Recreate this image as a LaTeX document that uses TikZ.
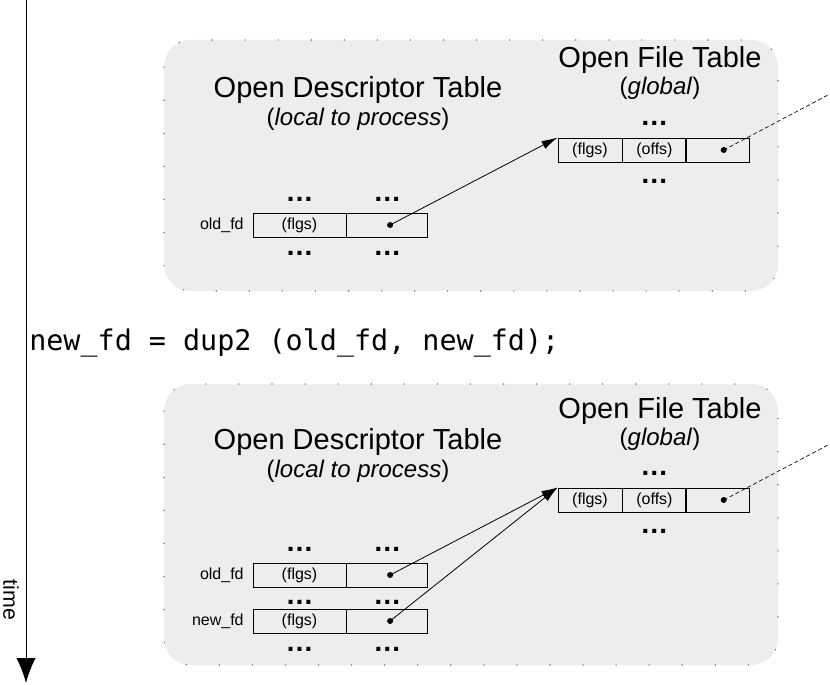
\documentclass[tikz,border=0pt]{standalone}
\usepackage{fontspec}
\setmainfont{Liberation Sans}
\newfontfamily\codefont{DejaVu Sans Mono}
\usetikzlibrary{positioning,arrows.meta}

\tikzset{
  panel/.style={fill=black!7,draw=black!60,line width=0.8pt,dash pattern=on 0.8pt off 24pt,rounded corners=20pt},
  cell/.style={draw,line width=0.7pt,minimum height=18pt,inner sep=0pt,font=\fontsize{12}{14}\selectfont},
  title/.style={font=\fontsize{21.75}{26}\selectfont,inner sep=0pt,anchor=base},
  subtitle/.style={font=\fontsize{18}{22}\selectfont,inner sep=0pt,anchor=base},
  dots/.style={font=\bfseries\fontsize{21}{26}\selectfont,inner sep=0pt},
  fdname/.style={font=\fontsize{12}{14}\selectfont,inner sep=0pt},
  ptrdot/.style={circle,fill,inner sep=0pt,minimum size=4.5pt},
  ptr/.style={-{Latex[length=12pt,width=6.5pt]},line width=0.6pt},
  extptr/.style={dash pattern=on 3pt off 2pt,line width=0.5pt},
  timeline/.style={-{Latex[length=18.75pt,width=14.5pt]},line width=0.75pt}
}

\begin{document}
\begin{tikzpicture}[x=0.75pt,y=-0.75pt]
  \useasboundingbox (0,0) rectangle (830,684);

  % time axis
  \coordinate (tstart) at (26,0);
  \coordinate (tend) at (26,683);
  \draw[timeline] (tstart) -- (tend);
  \node[rotate=-90,inner sep=0pt,font=\fontsize{16}{18}\selectfont] (timelbl) at (11,600) {time};

  % before the call
  \path[panel] (164,40) rectangle (778,291);
  \node[title] (odt1) at (358,98) {Open Descriptor Table};
  \node[subtitle] (odtsub1) at (358,126) {(\textit{local to process})};
  \node[title] (oft1) at (660,68) {Open File Table};
  \node[subtitle] (oftsub1) at (660,95) {(\textit{global})};

  \node[cell,minimum width=48pt] (fflg1) at (590,150) {(flgs)};
  \node[cell,minimum width=47.25pt,right=0pt of fflg1] (foff1) {(offs)};
  \node[cell,minimum width=47.25pt,right=0pt of foff1] (fptr1) {};
  \node[dots,above=8.5pt of foff1] (fup1) {…};
  \node[dots,below=12.5pt of foff1] (fdn1) {…};
  \node[ptrdot,xshift=4pt] (fdot1) at (fptr1.center) {};
  \coordinate (file1) at (828,95);

  \node[cell,minimum width=69.75pt] (oflg1) at (299.5,225) {(flgs)};
  \node[cell,minimum width=60.75pt,right=0pt of oflg1] (optr1) {};
  \node[fdname,left=6.5pt of oflg1] (old1) {old\_fd};
  \foreach \c in {oflg1,optr1} {
    \node[dots,above=8pt of \c] (\c-up) {…};
    \node[dots,below=10.5pt of \c] (\c-dn) {…};
  }
  \node[ptrdot,xshift=2pt] (odot1) at (optr1.center) {};

  \draw[ptr] (odot1.center) -- (fflg1.north west);
  \draw[extptr] (fdot1.center) -- (file1);

  % the call
  \node[anchor=base west,inner sep=0pt,font=\codefont\fontsize{21.3}{26}\selectfont] (call) at (29,350) {\frenchspacing new\_fd = dup2 (old\_fd, new\_fd);};

  % after the call
  \path[panel] (164,384) rectangle (778,665);
  \node[title] (odt2) at (358,449) {Open Descriptor Table};
  \node[subtitle] (odtsub2) at (358,477) {(\textit{local to process})};
  \node[title] (oft2) at (660,418) {Open File Table};
  \node[subtitle] (oftsub2) at (660,445) {(\textit{global})};

  \node[cell,minimum width=48pt] (fflg2) at (590,500) {(flgs)};
  \node[cell,minimum width=47.25pt,right=0pt of fflg2] (foff2) {(offs)};
  \node[cell,minimum width=47.25pt,right=0pt of foff2] (fptr2) {};
  \node[dots,above=8.5pt of foff2] (fup2) {…};
  \node[dots,below=12.5pt of foff2] (fdn2) {…};
  \node[ptrdot,xshift=4pt] (fdot2) at (fptr2.center) {};
  \coordinate (file2) at (828,445);

  \node[cell,minimum width=69.75pt] (oflg2) at (299.5,575) {(flgs)};
  \node[cell,minimum width=60.75pt,right=0pt of oflg2] (optr2) {};
  \node[fdname,left=6.5pt of oflg2] (old2) {old\_fd};
  \node[cell,minimum width=69.75pt] (nflg2) at (299.5,621) {(flgs)};
  \node[cell,minimum width=60.75pt,right=0pt of nflg2] (nptr2) {};
  \node[fdname,left=6.5pt of nflg2] (new2) {new\_fd};
  \foreach \c in {oflg2,optr2} {
    \node[dots,above=8pt of \c] (\c-up) {…};
    \node[dots,below=9.5pt of \c] (\c-dn) {…};
  }
  \foreach \c in {nflg2,nptr2} {
    \node[dots,below=10.5pt of \c] (\c-dn) {…};
  }
  \node[ptrdot,xshift=2pt] (odot2) at (optr2.center) {};
  \node[ptrdot,xshift=2pt] (ndot2) at (nptr2.center) {};

  \draw[ptr] (odot2.center) -- (fflg2.north west);
  \draw[ptr] (ndot2.center) -- (fflg2.north west);
  \draw[extptr] (fdot2.center) -- (file2);
\end{tikzpicture}
\end{document}
